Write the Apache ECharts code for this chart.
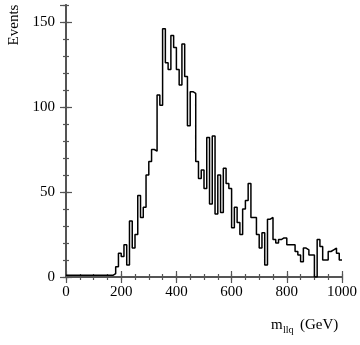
<!DOCTYPE html>
<html>
<head>
<meta charset="UTF-8">
<style>
  html, body { margin: 0; padding: 0; background: #fff; }
  #chart { width: 360px; height: 345px; }
</style>
<script src="https://cdn.jsdelivr.net/npm/echarts@6/dist/echarts.min.js"></script>
</head>
<body>
<div id="chart"></div>
<script>
// histogram: 10 GeV bins from 0 to 1000
var binStart = 0;
var binWidth = 10;
var counts = [
  1, 1, 1, 1, 1, 1, 1, 1, 1, 1,
  1, 1, 1, 1, 1, 1, 1, 2, 6, 14,
  12, 19, 7, 33, 17, 25, 48, 35, 41, 60,
  68, 75, 74, 107, 101, 146, 126, 122, 142, 135,
  122, 113, 137, 118, 89, 109, 108, 68, 58, 63,
  52, 82, 43, 83, 37, 60, 38, 64, 55, 52,
  29, 41, 32, 25, 40, 45, 55, 35, 35, 25,
  17, 26, 7, 34, 35, 22, 20, 22, 23, 23,
  19, 19, 19, 15, 13, 9, 17, 16, 13, 13,
  0, 22, 18, 10, 10, 15, 16, 17, 14, 10
];
var xRange = [0, 1000];
var yRange = [0, 160];

// step points: left edge of every bin, plus the closing right edge
var points = counts.map(function (c, i) { return [binStart + i * binWidth, c]; });
points.push([binStart + counts.length * binWidth, counts[counts.length - 1]]);

var frame = '#555';
var serif = 'Liberation Serif';

function xAx(pos, step, tickLen, labels) {
  return {
    type: 'value', position: pos, min: xRange[0], max: xRange[1], interval: step,
    axisLine: { show: true, lineStyle: { color: frame, width: 1.5 } },
    axisTick: { show: true, inside: true, length: tickLen, lineStyle: { color: frame, width: 1.2 } },
    axisLabel: { show: labels, color: '#000', fontFamily: serif, fontSize: 15, margin: 8,
      formatter: function (v) { return String(v); } },
    splitLine: { show: false }
  };
}
function yAx(pos, step, tickLen, labels) {
  return {
    type: 'value', position: pos, min: yRange[0], max: yRange[1], interval: step,
    axisLine: { show: true, lineStyle: { color: frame, width: 1.5 } },
    axisTick: { show: true, inside: true, length: tickLen, lineStyle: { color: frame, width: 1.2 } },
    axisLabel: { show: labels, showMaxLabel: false, color: '#000', fontFamily: serif, fontSize: 15, margin: 11 },
    splitLine: { show: false }
  };
}

var chart = echarts.init(document.getElementById('chart'));
chart.setOption({
  animation: false,
  grid: { left: 66, right: 17, top: 5, bottom: 68 },
  xAxis: [
    xAx('bottom', 200, 6, true), xAx('bottom', 50, 3, false),
    xAx('top', 200, 6, false), xAx('top', 50, 3, false)
  ],
  yAxis: [
    yAx('left', 50, 6, true), yAx('left', 10, 3, false),
    yAx('right', 50, 6, false), yAx('right', 10, 3, false)
  ],
  graphic: [
    { type: 'text', x: 14, y: 25, rotation: Math.PI / 2,
      style: { text: 'Events', font: '15px "Liberation Serif"', fill: '#000', textAlign: 'center', textVerticalAlign: 'middle' } },
    { type: 'text', x: 271, y: 325,
      style: { text: 'm', font: '15px "Liberation Serif"', fill: '#000', textAlign: 'left', textVerticalAlign: 'middle' } },
    { type: 'text', x: 283, y: 330,
      style: { text: 'llq', font: '10px "Liberation Serif"', fill: '#000', textAlign: 'left', textVerticalAlign: 'middle' } },
    { type: 'text', x: 300, y: 325,
      style: { text: '(GeV)', font: '15px "Liberation Serif"', fill: '#000', textAlign: 'left', textVerticalAlign: 'middle' } }
  ],
  series: [{
    type: 'line', step: 'end', data: points, symbol: 'none', z: 5,
    xAxisIndex: 0, yAxisIndex: 0,
    lineStyle: { color: '#000', width: 1.5 }
  }]
});
</script>
</body>
</html>
